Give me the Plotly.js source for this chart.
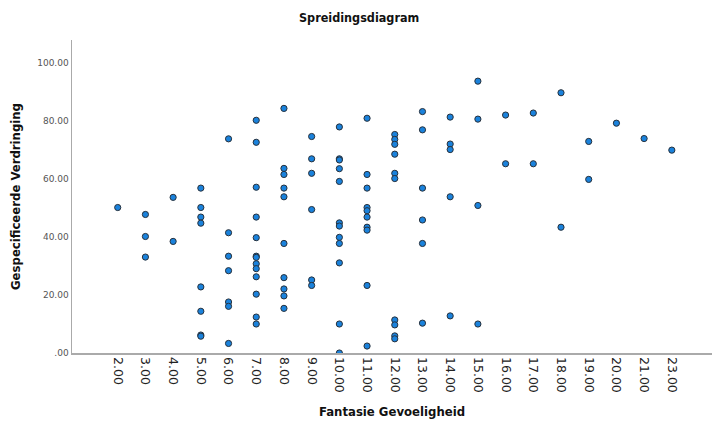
<!DOCTYPE html>
<html>
<head>
<meta charset="utf-8">
<script src="https://cdn.plot.ly/plotly-3.0.1.min.js"></script>
<style>html,body{margin:0;padding:0;background:#fff;}#chart{width:714px;height:424px;}</style>
</head>
<body>
<div id="chart"></div>
<script>
// x categories (Fantasie Gevoeligheid)
const categories = ["2.00","3.00","4.00","5.00","6.00","7.00","8.00","9.00","10.00","11.00","12.00","13.00","14.00","15.00","16.00","17.00","18.00","19.00","20.00","21.00","23.00"];

// y tick labels
const yTickVals = [0, 20, 40, 60, 80, 100];
const yTickText = [".00", "20.00", "40.00", "60.00", "80.00", "100.00"];

// points: x category and y value (Gespecificeerde Verdringing)
const pointX = [
  "2.00",
  "3.00","3.00","3.00",
  "4.00","4.00",
  "5.00","5.00","5.00","5.00","5.00","5.00","5.00","5.00",
  "6.00","6.00","6.00","6.00","6.00","6.00","6.00",
  "7.00","7.00","7.00","7.00","7.00","7.00","7.00","7.00","7.00","7.00","7.00","7.00","7.00",
  "8.00","8.00","8.00","8.00","8.00","8.00","8.00","8.00","8.00","8.00",
  "9.00","9.00","9.00","9.00","9.00","9.00",
  "10.00","10.00","10.00","10.00","10.00","10.00","10.00","10.00","10.00","10.00","10.00","10.00",
  "11.00","11.00","11.00","11.00","11.00","11.00","11.00","11.00","11.00","11.00",
  "12.00","12.00","12.00","12.00","12.00","12.00","12.00","12.00","12.00","12.00",
  "13.00","13.00","13.00","13.00","13.00","13.00",
  "14.00","14.00","14.00","14.00","14.00",
  "15.00","15.00","15.00","15.00",
  "16.00","16.00",
  "17.00","17.00",
  "18.00","18.00",
  "19.00","19.00",
  "20.00",
  "21.00",
  "23.00"
];
const pointY = [
  50.2,
  47.8, 40.2, 33.1,
  53.7, 38.5,
  56.9, 50.2, 46.9, 44.8, 22.8, 14.4, 6.2, 5.8,
  73.9, 41.5, 33.4, 28.4, 17.6, 16.1, 3.3,
  80.3, 72.7, 57.2, 46.9, 39.8, 33.4, 33.0, 30.8, 29.1, 26.3, 20.3, 12.4, 10.0,
  84.4, 63.7, 61.6, 56.9, 53.9, 37.8, 26.0, 22.1, 19.7, 15.4,
  74.7, 67.0, 62.0, 49.5, 25.2, 23.3,
  78.0, 67.0, 66.6, 63.6, 59.2, 44.9, 43.8, 39.9, 37.8, 31.1, 10.0, 0.0,
  81.0, 61.6, 56.9, 50.2, 49.1, 46.9, 43.4, 42.4, 23.3, 2.4,
  75.4, 73.7, 72.0, 68.6, 62.0, 60.2, 11.4, 9.7, 5.9, 4.9,
  83.3, 77.0, 56.9, 45.9, 37.8, 10.3,
  81.4, 72.1, 70.2, 53.9, 12.8,
  93.8, 80.7, 50.9, 10.0,
  82.1, 65.3,
  82.8, 65.3,
  89.8, 43.4,
  73.0, 59.9,
  79.3,
  74.0,
  70.0
];

const trace = {
  type: "scatter",
  mode: "markers",
  x: pointX,
  y: pointY,
  marker: { size: 6.2, color: "#1a82dc", line: { color: "#27313c", width: 1 } },
  hoverinfo: "x+y",
  showlegend: false
};

const layout = {
  width: 714,
  height: 424,
  margin: { l: 72, r: 2, t: 40, b: 71 },
  paper_bgcolor: "#ffffff",
  plot_bgcolor: "#ffffff",
  font: { family: "DejaVu Sans, sans-serif", color: "#222" },
  title: {
    text: "<b>Spreidingsdiagram</b>",
    font: { size: 12.5, color: "#111", family: "DejaVu Sans Condensed, DejaVu Sans, sans-serif" },
    x: 0.503, xanchor: "center",
    y: 1 - 18 / 424, yref: "container", yanchor: "middle"
  },
  xaxis: {
    type: "category",
    categoryorder: "array",
    categoryarray: categories,
    range: [-1.65, 21.45],
    showgrid: false,
    zeroline: false,
    showline: true,
    linecolor: "#aaaaaa",
    linewidth: 1.5,
    ticks: "",
    tickangle: 90,
    tickfont: { size: 12.5, color: "#222", family: "DejaVu Sans, sans-serif" },
    automargin: false,
    title: {
      text: "<b>Fantasie Gevoeligheid</b>",
      font: { size: 13, color: "#111", family: "DejaVu Sans Condensed, DejaVu Sans, sans-serif" },
      standoff: 15
    }
  },
  yaxis: {
    range: [0, 108],
    tickvals: yTickVals,
    ticktext: yTickText,
    showgrid: false,
    zeroline: false,
    showline: true,
    linecolor: "#aaaaaa",
    linewidth: 1.5,
    ticks: "",
    tickfont: { size: 9, color: "#555", family: "DejaVu Sans, sans-serif" },
    automargin: false,
    title: {
      text: "<b>Gespecificeerde Verdringing</b>",
      font: { size: 13, color: "#111", family: "DejaVu Sans Condensed, DejaVu Sans, sans-serif" },
      standoff: 13
    }
  }
};

Plotly.newPlot("chart", [trace], layout, { displayModeBar: false, staticPlot: true });
</script>
</body>
</html>
